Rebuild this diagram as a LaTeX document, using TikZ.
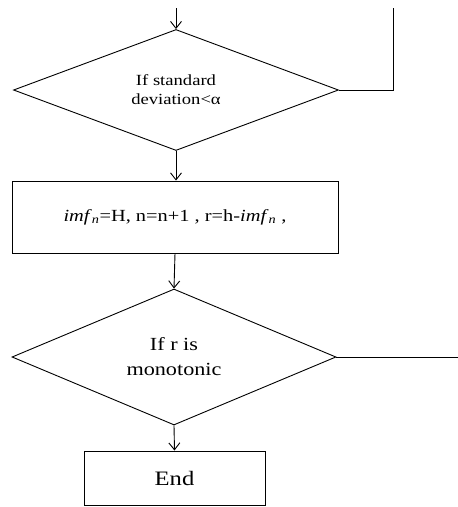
\documentclass[tikz,border=0pt]{standalone}
\usepackage{fontspec}
\setmainfont{Liberation Serif}[FakeStretch=1.2]
\usetikzlibrary{shapes.geometric,arrows.meta}
\begin{document}
\begin{tikzpicture}[x=1pt,y=-1pt,
  line width=0.9pt,
  dec/.style={draw,shape=diamond,inner sep=0pt,align=center},
  procbox/.style={draw,rectangle,inner sep=0pt,align=center},
  arr/.style={-{Straight Barb[length=7pt,width=11pt,line width=0.9pt]}}]
\useasboundingbox (0,0) rectangle (458,507);
\coordinate (in) at (176,8);
\node[dec,minimum width=325pt,minimum height=121pt,font=\fontsize{15.5}{19}\selectfont] (d1) at (176,90) {If standard\\deviation<α};
\node[procbox,minimum width=326pt,minimum height=72pt,font=\fontsize{17}{20}\selectfont] (p1) at (175,217) {\raisebox{3pt}{\textit{imf}\textsubscript{\textit{n}}=H, n=n+1 , r=h-\textit{imf}\textsubscript{\textit{n}} ,}};
\node[dec,minimum width=324pt,minimum height=136pt,font=\fontsize{18.5}{25}\selectfont] (d2) at (174,357) {If r is\\monotonic};
\node[procbox,minimum width=181pt,minimum height=54pt,font=\fontsize{20.5}{24}\selectfont] (e) at (174.5,478) {End};
\coordinate (loopend) at (393,8);
\coordinate (outend) at (458,357);
\draw[arr] (in) -- (d1.north);
\draw (d1.east) -| (loopend);
\draw[arr] (d1.south) -- (p1.north -| d1.south);
\draw[arr] (p1.south) -- (d2.north);
\draw (d2.east) -- (outend);
\draw[arr] (d2.south) -- (e.north);
\end{tikzpicture}
\end{document}
